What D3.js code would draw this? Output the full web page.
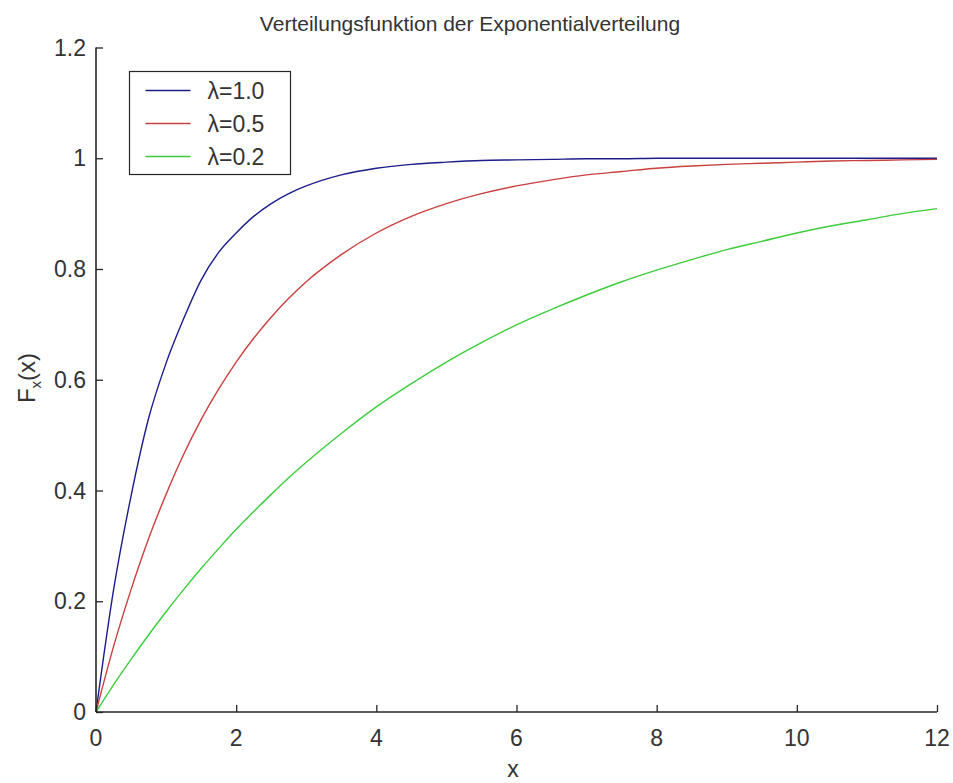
<!DOCTYPE html>
<html>
<head>
<meta charset="utf-8">
<script src="https://cdn.jsdelivr.net/npm/d3@7"></script>
<style>
  body { margin: 0; background: #fff; }
  text { font-family: "Liberation Sans", Arial, sans-serif; fill: #333; }
</style>
</head>
<body>
<div id="chart"></div>
<script>
// x positions
var xs = [0, 0.25, 0.5, 0.75, 1, 1.25, 1.5, 1.75, 2, 2.25, 2.5, 2.75, 3,
  3.5, 4, 4.5, 5, 5.5, 6, 6.5, 7, 7.5, 8, 8.5, 9, 9.5, 10, 10.5, 11, 11.5, 12];

// F(x) values, one array per lambda
var lam10 = [0, 0.22, 0.39, 0.53, 0.63, 0.71, 0.78, 0.83, 0.865, 0.895, 0.918, 0.936, 0.95,
  0.97, 0.982, 0.989, 0.993, 0.996, 0.997, 0.998, 0.999, 0.999, 1, 1, 1, 1, 1, 1, 1, 1, 1];
var lam05 = [0, 0.118, 0.221, 0.313, 0.393, 0.465, 0.528, 0.583, 0.632, 0.675, 0.713, 0.747, 0.777,
  0.826, 0.865, 0.895, 0.918, 0.936, 0.95, 0.961, 0.97, 0.976, 0.982, 0.986, 0.989, 0.991, 0.993, 0.995, 0.996, 0.997, 0.998];
var lam02 = [0, 0.049, 0.095, 0.139, 0.181, 0.221, 0.259, 0.295, 0.33, 0.362, 0.393, 0.423, 0.451,
  0.503, 0.551, 0.593, 0.632, 0.667, 0.699, 0.727, 0.753, 0.777, 0.798, 0.817, 0.835, 0.85, 0.865, 0.878, 0.889, 0.9, 0.909];

var seriesNames = ["\u03bb=1.0", "\u03bb=0.5", "\u03bb=0.2"];
var seriesValues = [lam10, lam05, lam02];
var seriesColors = ["#1c1c8a", "#c8403f", "#3ccc3c"];

var xTicks = [0, 2, 4, 6, 8, 10, 12];
var yTicks = [0, 0.2, 0.4, 0.6, 0.8, 1, 1.2];

var width = 953, height = 783;
var margin = {left: 96, right: 16, top: 47.5, bottom: 71};

var svg = d3.select("#chart").append("svg")
  .attr("width", width)
  .attr("height", height);

var x = d3.scaleLinear().domain([0, 12]).range([margin.left, width - margin.right]);
var y = d3.scaleLinear().domain([0, 1.2]).range([height - margin.bottom, margin.top]);

// curves
var line = d3.line()
  .curve(d3.curveMonotoneX)
  .x(function(d){ return x(d[0]); })
  .y(function(d){ return y(d[1]); });

seriesValues.forEach(function(vals, i){
  svg.append("path")
    .datum(xs.map(function(v, j){ return [v, vals[j]]; }))
    .attr("fill", "none")
    .attr("stroke", seriesColors[i])
    .attr("stroke-width", 1.4)
    .attr("d", line);
});

// axes, ticks inward, no box
var xAxis = svg.append("g")
  .attr("transform", "translate(0," + (height - margin.bottom) + ")")
  .call(d3.axisTop(x).tickValues(xTicks).tickSize(7).tickFormat(""));
var yAxis = svg.append("g")
  .attr("transform", "translate(" + margin.left + ",0)")
  .call(d3.axisRight(y).tickValues(yTicks).tickSize(7).tickFormat(""));

[xAxis, yAxis].forEach(function(g){
  g.select(".domain").attr("stroke", "#262626").attr("stroke-width", 1.6);
  g.selectAll(".tick line").attr("stroke", "#262626").attr("stroke-width", 1.3);
});
// outer ticks of the domain path are not wanted
xAxis.select(".domain").attr("d", "M" + x(0) + ",0H" + x(12));
yAxis.select(".domain").attr("d", "M0," + y(0) + "V" + y(1.2));

svg.selectAll(".xlab")
  .data(xTicks)
  .enter().append("text")
  .attr("x", function(d){ return x(d); })
  .attr("y", height - margin.bottom + 34)
  .attr("text-anchor", "middle")
  .style("font-size", "23px")
  .text(function(d){ return d; });

svg.selectAll(".ylab")
  .data(yTicks)
  .enter().append("text")
  .attr("x", margin.left - 10)
  .attr("y", function(d){ return y(d); })
  .attr("dy", "0.35em")
  .attr("text-anchor", "end")
  .style("font-size", "23px")
  .text(function(d){ return d; });

// title and axis labels
svg.append("text")
  .attr("x", 470)
  .attr("y", 31)
  .attr("text-anchor", "middle")
  .style("font-size", "21px")
  .text("Verteilungsfunktion der Exponentialverteilung");

svg.append("text")
  .attr("x", 513)
  .attr("y", 777)
  .attr("text-anchor", "middle")
  .style("font-size", "23px")
  .text("x");

var yl = svg.append("text")
  .attr("transform", "translate(35,378) rotate(-90)")
  .attr("text-anchor", "middle")
  .style("font-size", "24px");
yl.append("tspan").text("F");
yl.append("tspan").attr("dy", 6).style("font-size", "15px").text("x");
yl.append("tspan").attr("dy", -6).text("(x)");

// legend
var legend = svg.append("g").attr("transform", "translate(129.5,71.5)");
legend.append("rect")
  .attr("width", 161)
  .attr("height", 103)
  .attr("fill", "#fff")
  .attr("stroke", "#262626")
  .attr("stroke-width", 1.2);

seriesNames.forEach(function(name, i){
  var yy = 19 + i * 33;
  legend.append("line")
    .attr("x1", 16).attr("x2", 61)
    .attr("y1", yy).attr("y2", yy)
    .attr("stroke", seriesColors[i])
    .attr("stroke-width", 1.4);
  legend.append("text")
    .attr("x", 78)
    .attr("y", yy)
    .attr("dy", "0.35em")
    .style("font-size", "23px")
    .text(name);
});
</script>
</body>
</html>
